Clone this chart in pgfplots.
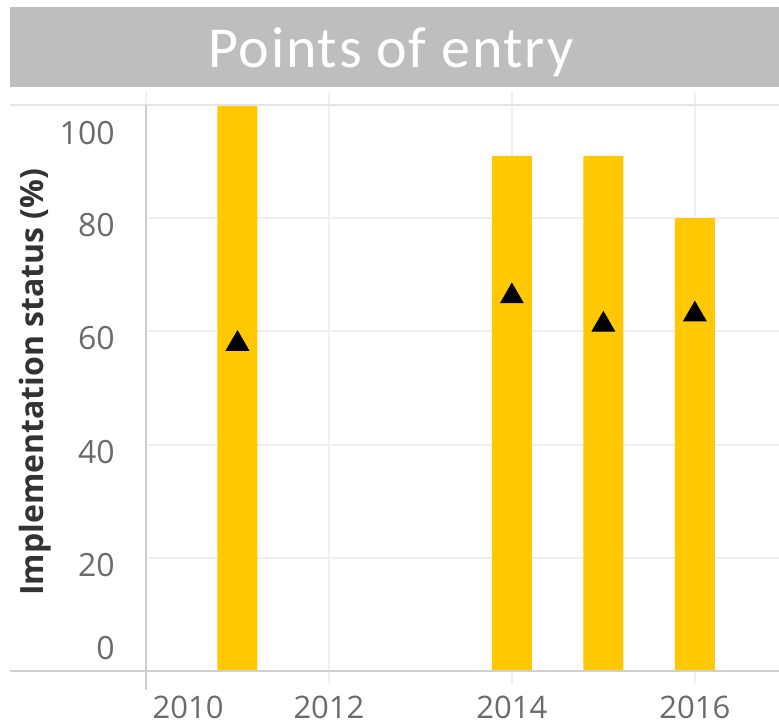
\documentclass[border=0pt]{standalone}
\usepackage{pgfplots}
\pgfplotsset{compat=1.18}
\usepackage{fontspec}
\setmainfont{Open Sans}
\newfontfamily\titlefont[LetterSpace=3.0]{Carlito}
\definecolor{baryellow}{HTML}{FFC800}
\definecolor{titlegray}{HTML}{BEBEBE}
\definecolor{gridgray}{HTML}{F0F0F0}
\definecolor{axisgray}{HTML}{CFCFCF}
\definecolor{topgray}{HTML}{E4E4E4}
\definecolor{ticktext}{HTML}{6B6B6B}
\definecolor{labeltext}{HTML}{333333}
\begin{document}
\begin{tikzpicture}
\fill[titlegray] (-68pt,292pt) rectangle (316.5pt,332pt);
\node[text=white, font=\titlefont\fontsize{29}{31}\selectfont] at (122.5pt,309.5pt) {Points of entry};
\begin{axis}[
  at={(0pt,0pt)}, anchor=south west,
  scale only axis, width=316.5pt, height=283pt,
  xmin=2010, xmax=2016.92, ymin=0, ymax=100,
  axis line style={draw=none},
  xtick={2010,2012,2014,2016},
  xticklabels={,2012,2014,2016},
  extra x ticks={2010.46},
  extra x tick labels={2010},
  extra x tick style={grid=none, xtick style={draw=none}},
  ytick={20,40,60,80},
  yticklabels={20,40,60,80},
  extra y ticks={5.3,96.3},
  extra y tick labels={0,100},
  extra y tick style={grid=none, ytick style={draw=none}},
  grid=major,
  x grid style={gridgray, line width=1pt},
  y grid style={gridgray, line width=1pt},
  tick align=outside,
  major tick length=6.5pt,
  xtick style={gridgray, line width=1pt},
  ytick style={draw=none},
  x tick label style={font=\fontsize{15.5}{16}\selectfont, text=ticktext, anchor=north, inner sep=0pt, text depth=0pt, yshift=-6pt},
  y tick label style={font=\fontsize{16}{17}\selectfont, text=ticktext, anchor=east, inner sep=0pt, xshift=-9pt, yshift=-3.5pt},
  ylabel={Implementation status (\%)},
  ylabel style={font=\bfseries\fontsize{16}{18}\selectfont, text=labeltext, at={(axis description cs:-0.1754,0.51)}, anchor=center},
  clip=false,
]
\addplot[ybar, bar width=20pt, fill=baryellow, draw=none] coordinates {
  (2011,100) (2014,91) (2015,91) (2016,80)
};
\addplot[only marks, mark=triangle*, mark size=6.5pt, mark options={fill=black, draw=black}] coordinates {
  (2011,57.8) (2014,66.2) (2015,61.2) (2016,63.0)
};
\end{axis}
\draw[topgray, line width=1pt] (-68pt,283pt) -- (316.5pt,283pt);
\draw[axisgray, line width=1pt] (-68pt,0pt) -- (316.5pt,0pt);
\draw[axisgray, line width=1pt] (0pt,-9.5pt) -- (0pt,283pt);
\pgfresetboundingbox
\path[use as bounding box] (-73pt,-26.5pt) rectangle (316.5pt,335.5pt);
\end{tikzpicture}
\end{document}
